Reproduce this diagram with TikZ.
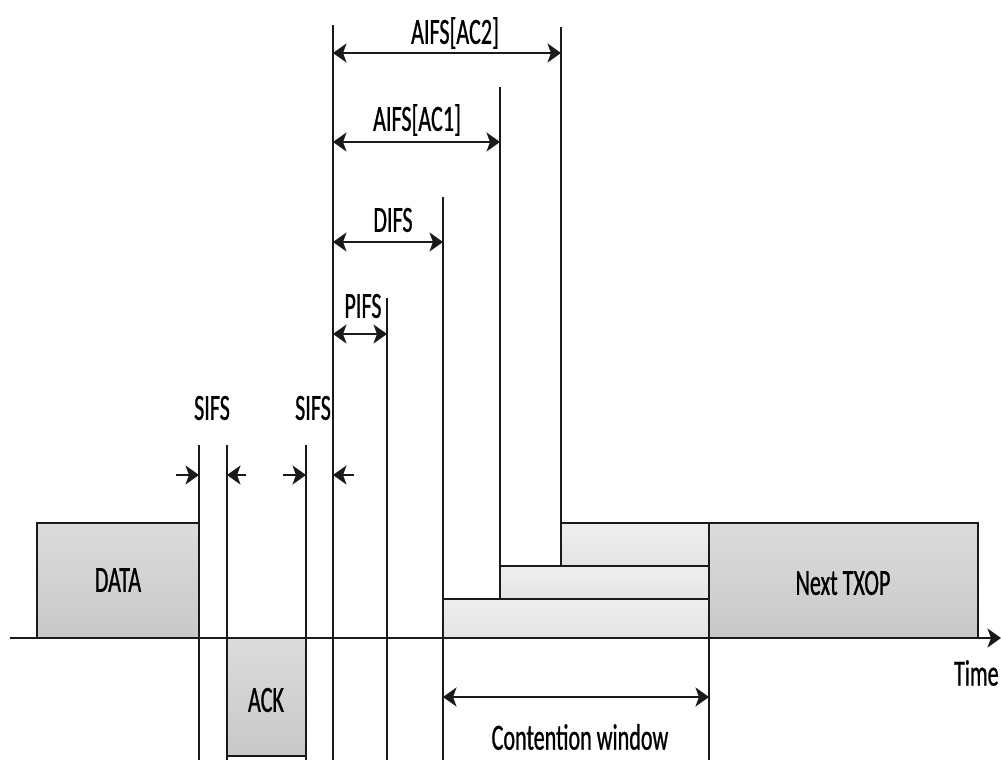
\documentclass[tikz,border=0pt]{standalone}
\usepackage{fontspec}
\setmainfont[FakeStretch=0.6,FakeBold=0.7]{Carlito}
\usetikzlibrary{arrows.meta}
\definecolor{frmgray}{HTML}{D3D3D3}
\definecolor{frmdark}{HTML}{C8C8C8}
\definecolor{cwgray}{HTML}{EEEEEE}
\definecolor{cwdark}{HTML}{E4E4E4}
\definecolor{lnblack}{HTML}{1A1A1A}

\tikzset{
  frame/.style={draw=lnblack,line width=1.2pt,top color=frmgray!80,bottom color=frmdark},
  slot/.style={draw=lnblack,line width=1.2pt,top color=cwgray,bottom color=cwdark},
  tick/.style={lnblack,line width=0.9pt},
  span/.style={lnblack,line width=1.4pt,{Stealth[length=2.7mm,width=3.8mm,inset=0.7mm]}-{Stealth[length=2.7mm,width=3.8mm,inset=0.7mm]}},
  poke/.style={lnblack,line width=1.4pt,-{Stealth[length=2.7mm,width=3.8mm,inset=0.7mm]}},
  lbl/.style={inner sep=0pt,font=\fontsize{21}{25}\selectfont}
}

\begin{document}
\begin{tikzpicture}[x=0.2mm,y=-0.2mm]
  \useasboundingbox (0,0) rectangle (1001,760);

  % =====================================================================
  % 1. FRAMES ON THE MEDIUM
  % =====================================================================

  % Backoff slots of the three access categories
  \draw[slot] (443,599) rectangle (709,638);
  \draw[slot] (500,566) rectangle (709,599);
  \draw[slot] (561,523) rectangle (709,566);

  % DATA, ACK and next TXOP
  \draw[frame] (37,523) rectangle (199,638);
  \draw[frame] (227,638) rectangle (306,756);
  \draw[frame] (709,523) rectangle (978,638);
  \node[lbl] (data) at (118,580) {DATA};
  \node[lbl] (ack)  at (266,700) {ACK};
  \node[lbl] (txop) at (843,583) {Next TXOP};

  % Time axis
  \coordinate (t0) at (10,638);
  \coordinate (t1) at (1001,638);
  \draw[poke] (t0) -- (t1);
  \node[lbl,anchor=east] (time) at (999,673) {Time};

  % =====================================================================
  % 2. BOUNDARIES OF THE INTERFRAME SPACES
  % =====================================================================

  \coordinate (s1) at (199,445);  \coordinate (s1b) at (199,760);
  \coordinate (s2) at (227,445);  \coordinate (s2b) at (227,760);
  \coordinate (s3) at (306,445);  \coordinate (s3b) at (306,760);
  \coordinate (e0) at (333,25);   \coordinate (e0b) at (333,760);
  \coordinate (pf) at (387,298);  \coordinate (pfb) at (387,760);
  \coordinate (df) at (443,197);  \coordinate (dfb) at (443,760);
  \coordinate (a1) at (500,87);   \coordinate (a1b) at (500,566);
  \coordinate (a2) at (561,27);   \coordinate (a2b) at (561,523);
  \coordinate (cw) at (709,523);  \coordinate (cwb) at (709,760);

  \foreach \p in {s1,s2,s3,e0,pf,df,a1,a2,cw}
    \draw[tick] (\p) -- (\p b);

  % =====================================================================
  % 3. SPAN ARROWS AND LABELS
  % =====================================================================

  % SIFS (arrows pointing at the boundaries)
  \coordinate (k1) at (176,475);  \coordinate (k2) at (246,475);
  \coordinate (k3) at (283,475);  \coordinate (k4) at (354,475);
  \draw[poke] (k1) -- (s1 |- k1);
  \draw[poke] (k2) -- (s2 |- k2);
  \draw[poke] (k3) -- (s3 |- k3);
  \draw[poke] (k4) -- (e0 |- k4);
  \node[lbl] (sifs1) at (212,408) {SIFS};
  \node[lbl] (sifs2) at (313,408) {SIFS};

  % PIFS, DIFS, AIFS
  \draw[span] (e0 |- 0,334) -- (pf |- 0,334);
  \node[lbl] (pifs) at (363,306) {PIFS};
  \draw[span] (e0 |- 0,242) -- (df |- 0,242);
  \node[lbl] (difs) at (393,220) {DIFS};
  \draw[span] (e0 |- 0,142) -- (a1 |- 0,142);
  \node[lbl] (aifs1) at (417,120) {AIFS[AC1]};
  \draw[span] (e0 |- 0,53) -- (a2 |- 0,53);
  \node[lbl] (aifs2) at (455,33) {AIFS[AC2]};

  % Contention window
  \draw[span] (df |- 0,697) -- (cw |- 0,697);
  \node[lbl] (cwin) at (580,737) {Contention window};

\end{tikzpicture}
\end{document}
